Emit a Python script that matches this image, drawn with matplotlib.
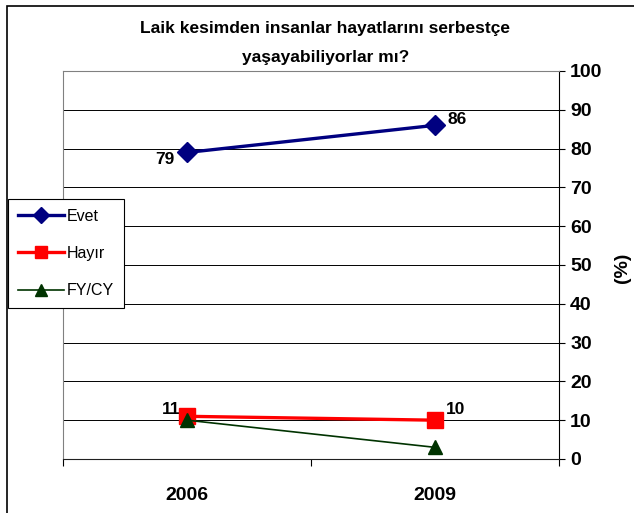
import matplotlib.pyplot as plt
from matplotlib.patches import Rectangle

# survey answers, percent
years = ['2006', '2009']
evet = [79, 86]
hayir = [11, 10]
fycy = [10, 3]
yticks = list(range(0, 101, 10))

plt.rcParams['font.family'] = ['Liberation Sans Narrow', 'Liberation Sans', 'DejaVu Sans']

fig = plt.figure(figsize=(6.34, 5.13), dpi=100)
ax = fig.add_axes([0.0994, 0.1053, 0.7823, 0.7563])

x = list(range(len(years)))
ax.plot(x, evet, color='#000080', lw=2.4, marker='D', ms=10, label='Evet', zorder=4)
ax.plot(x, hayir, color='#ff0000', lw=2.4, marker='s', ms=12, label='Hayır', zorder=4)
ax.plot(x, fycy, color='#003300', lw=1.2, marker='^', ms=10, label='FY/CY', zorder=5)

# value labels
lab = dict(fontsize=12.5, fontweight='bold', color='black')
ax.annotate(str(evet[0]), (0, evet[0]), xytext=(-9, -5), textcoords='offset points', ha='right', va='center', **lab)
ax.annotate(str(evet[1]), (1, evet[1]), xytext=(9, 4), textcoords='offset points', ha='left', va='center', **lab)
ax.annotate(str(hayir[0]), (0, hayir[0]), xytext=(-5, 5), textcoords='offset points', ha='right', va='center', **lab)
ax.annotate(str(hayir[1]), (1, hayir[1]), xytext=(8, 8), textcoords='offset points', ha='left', va='center', **lab)

ax.set_xlim(-0.5, 1.5)
ax.set_ylim(0, 100)
ax.set_yticks(yticks)
ax.yaxis.tick_right()
ax.tick_params(axis='y', length=4, width=0.8, labelsize=14, pad=4)
for t in ax.get_yticklabels():
    t.set_fontweight('bold')

ax.set_xticks([-0.5, 0.5, 1.5])
ax.set_xticklabels([])
ax.set_xticks(x, minor=True)
ax.set_xticklabels(years, minor=True, fontsize=14, fontweight='bold')
ax.tick_params(axis='x', which='major', length=5, width=0.8)
ax.tick_params(axis='x', which='minor', length=0, pad=20)

ax.grid(axis='y', color='black', lw=0.7)
ax.set_axisbelow(True)
ax.spines['top'].set_color('#808080')
ax.spines['left'].set_color('#808080')
ax.spines['right'].set_color('black')
ax.spines['bottom'].set_color('#202020')
for s in ax.spines.values():
    s.set_linewidth(0.8)

fig.text(622 / 634, 1 - 268 / 513, '(%)', rotation=90, ha='center', va='center',
         fontsize=14, fontweight='bold')

fig.text(0.513, 0.945, 'Laik kesimden insanlar hayatlarını serbestçe',
         ha='center', va='center', fontsize=12.5, fontweight='bold')
fig.text(0.513, 0.888, 'yaşayabiliyorlar mı?',
         ha='center', va='center', fontsize=12.5, fontweight='bold')

leg = fig.legend(loc='upper left', bbox_to_anchor=(8 / 634, 1 - 199 / 513),
                 frameon=True, fancybox=False, framealpha=1, edgecolor='black',
                 fontsize=11.5, handlelength=2.9, handletextpad=0.2,
                 borderpad=0.6, labelspacing=1.4, borderaxespad=0)
leg.get_frame().set_linewidth(0.8)
for h in leg.legend_handles:
    h.set_markersize(8)

# outer frame, runs off the right and bottom edges
fig.patches.append(Rectangle((7 / 634, -0.05), 1.0, 1 - 6 / 513 + 0.05,
                             transform=fig.transFigure, fill=False,
                             edgecolor='black', lw=1.2))

fig.savefig('out.png', dpi=100)
